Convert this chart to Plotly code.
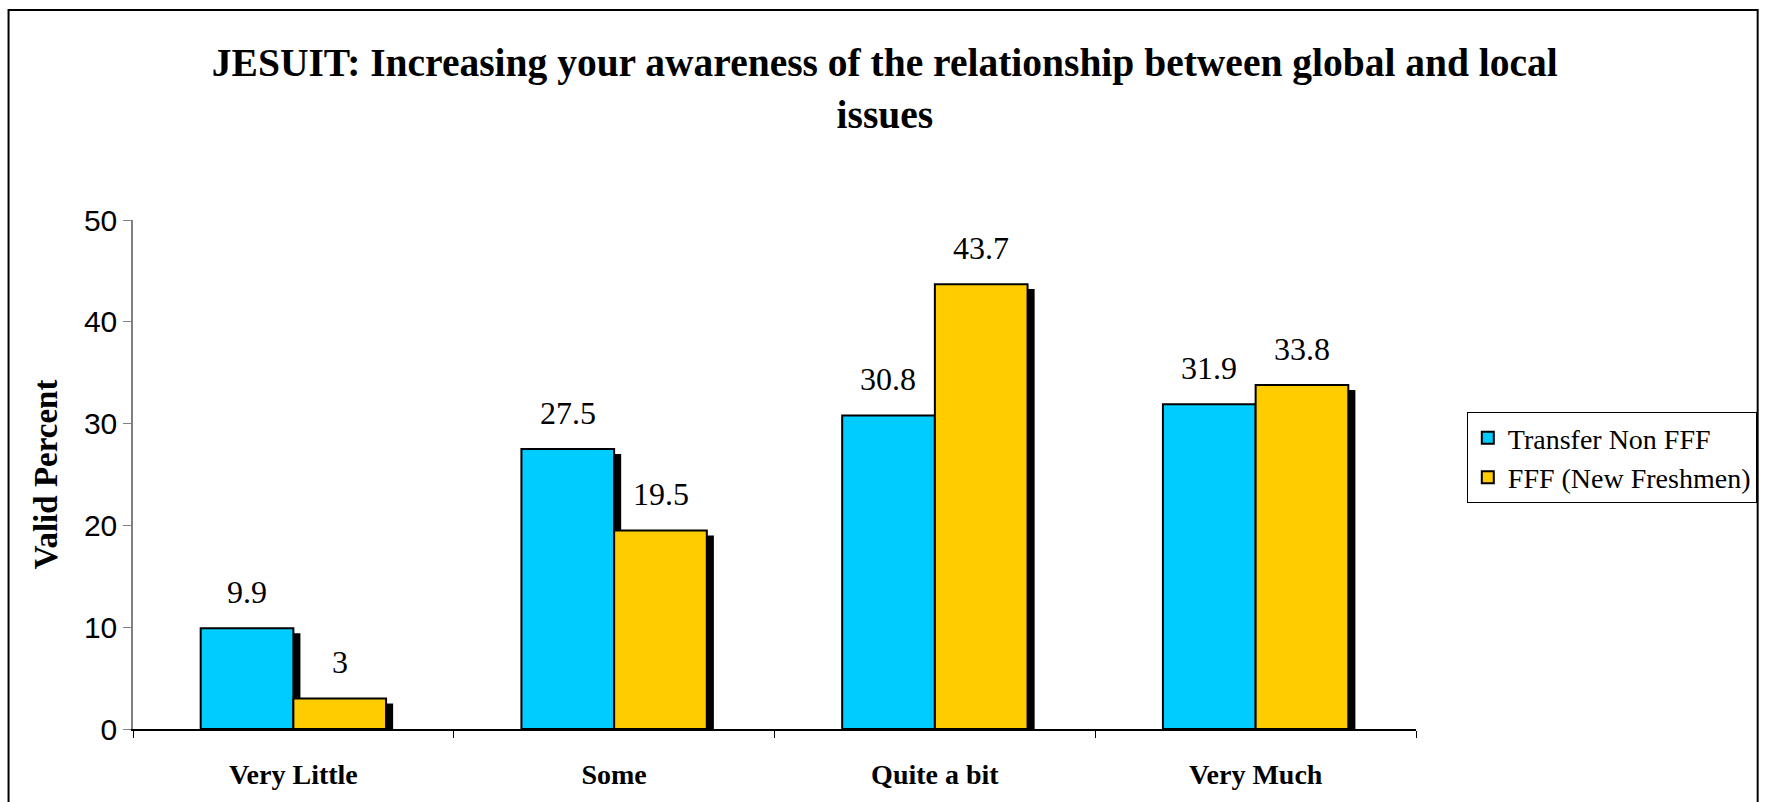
import plotly.graph_objects as go

title = 'JESUIT: Increasing your awareness of the relationship between global and local<br>issues'

categories = ['Very Little', 'Some', 'Quite a bit', 'Very Much']
transfer = [9.9, 27.5, 30.8, 31.9]
freshmen = [3, 19.5, 43.7, 33.8]
names = ['Transfer Non FFF', 'FFF (New Freshmen)']

blue = '#00CCFF'
yellow = '#FFCC00'
serif = 'Liberation Serif, Times New Roman, serif'
sans = 'Liberation Sans, Arial, sans-serif'

bar_w = 0.289      # width of one bar, in category units
shadow_dx = 0.022  # drop shadow shift right
shadow_dy = -0.49  # drop shadow shift down

series = [(transfer, blue, -bar_w, names[0]),
          (freshmen, yellow, 0, names[1])]

fig = go.Figure()

# drop shadows first so the bars sit on top
for vals, color, off, name in series:
    fig.add_trace(go.Bar(x=categories, y=vals, base=shadow_dy,
                         offset=off + shadow_dx, width=bar_w,
                         marker=dict(color='black', line=dict(width=0)),
                         showlegend=False, hoverinfo='skip'))

for vals, color, off, name in series:
    fig.add_trace(go.Bar(x=categories, y=vals, name=name,
                         offset=off, width=bar_w,
                         marker=dict(color=color, line=dict(color='black', width=2))))

# value labels above bars
notes = []
for vals, color, off, name in series:
    for c, v in zip(categories, vals):
        notes.append(dict(x=c, y=v, text=f'{v:g}', showarrow=False,
                          xref='x', yref='y', yanchor='bottom',
                          xshift=(off + bar_w / 2) * 322, yshift=16,
                          font=dict(family=serif, size=32, color='black')))

fig.update_layout(
    width=1769, height=802,
    barmode='overlay',
    paper_bgcolor='white', plot_bgcolor='white',
    margin=dict(l=133, r=348, t=220, b=70),
    title=dict(text=title, x=0.586, xref='paper', xanchor='center',
               y=0.905, yref='container', yanchor='middle',
               font=dict(family=serif, size=39.5, color='black', weight='bold')),
    legend=dict(x=1.0396, xanchor='left', y=0.6226, yanchor='top',
                bgcolor='white', bordercolor='black', borderwidth=1,
                font=dict(family=serif, size=28, color='black')),
    annotations=notes,
    shapes=[dict(type='rect', xref='paper', yref='paper',
                 x0=-0.097, x1=1.2663, y0=-0.3, y1=1.4125,
                 line=dict(color='black', width=2))],
    showlegend=True,
)

fig.update_xaxes(range=[-0.5, 3.5], showline=True, linecolor='black', linewidth=1.5,
                 ticks='outside', tickson='boundaries', ticklen=7, tickcolor='black',
                 showgrid=False, zeroline=False, ticklabelstandoff=20,
                 tickfont=dict(family=serif, size=28, color='black', weight='bold'))
fig.update_yaxes(range=[0, 50], dtick=10, showline=True, linecolor='#808080', linewidth=1.5,
                 ticks='outside', ticklen=8, tickcolor='#808080',
                 showgrid=False, zeroline=False,
                 tickfont=dict(family=sans, size=30, color='black'),
                 title=dict(text='Valid Percent', standoff=16,
                            font=dict(family=serif, size=33, color='black', weight='bold')))

# drop the default 8px page margin so the chart sits at the window corner
fig.write_html('out.html', config={'displayModeBar': False},
               post_script="document.body.style.margin='0';")
